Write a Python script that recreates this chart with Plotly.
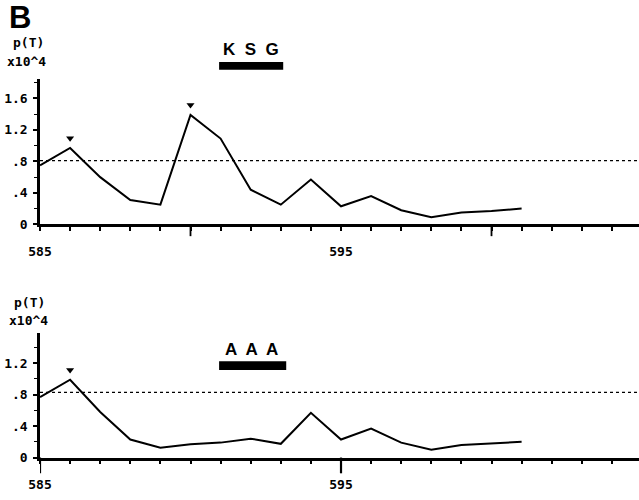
import plotly.graph_objects as go

# ---- data ----
positions = list(range(585, 602))
ksg_values = [0.75, 0.97, 0.60, 0.31, 0.25, 1.39, 1.09, 0.44, 0.25, 0.57, 0.23, 0.36, 0.18, 0.09, 0.15, 0.17, 0.20]
aaa_values = [0.77, 0.99, 0.58, 0.23, 0.125, 0.17, 0.19, 0.24, 0.175, 0.57, 0.23, 0.37, 0.19, 0.10, 0.16, 0.18, 0.20]
threshold_top = 0.81
threshold_bottom = 0.83
peaks_top = [586, 590]
peaks_bottom = [586]
motif_span = [590.95, 593.08]
motif_top_label = "K  S  G"
motif_bottom_label = "A  A  A"
x_tick_vals = [585, 595]
x_tick_text = ["585", "595"]
long_ticks_top = [590, 600]
long_ticks_bottom = [585, 595]
y_tick_vals = [0, 0.4, 0.8, 1.2, 1.6]
y_tick_text = ["0", ".4", ".8", "1.2", "1.6"]
y_tick_vals_bottom = [0, 0.4, 0.8, 1.2]
y_tick_text_bottom = ["0", ".4", ".8", "1.2"]

W, H = 639, 500
mono = dict(family="DejaVu Sans Mono", size=13, color="black", weight="bold")
sans = dict(family="Liberation Sans", size=17, color="black", weight="bold")

top_dom = [(H - 228) / H, (H - 80) / H]
bot_dom = [(H - 465) / H, (H - 338) / H]
arrow_offset = 0.125

fig = go.Figure()
fig.add_trace(go.Scatter(x=positions, y=ksg_values, mode="lines",
                         line=dict(color="black", width=2), xaxis="x", yaxis="y"))
fig.add_trace(go.Scatter(x=positions, y=aaa_values, mode="lines",
                         line=dict(color="black", width=2), xaxis="x2", yaxis="y2"))

# arrowheads above peaks
pk_top_y = [ksg_values[positions.index(p)] + arrow_offset for p in peaks_top]
pk_bot_y = [aaa_values[positions.index(p)] + arrow_offset for p in peaks_bottom]
fig.add_trace(go.Scatter(x=peaks_top, y=pk_top_y, mode="markers", cliponaxis=False,
                         marker=dict(symbol="triangle-down", size=7, color="black"),
                         xaxis="x", yaxis="y"))
fig.add_trace(go.Scatter(x=peaks_bottom, y=pk_bot_y, mode="markers", cliponaxis=False,
                         marker=dict(symbol="triangle-down", size=7, color="black"),
                         xaxis="x2", yaxis="y2"))

xcommon = dict(range=[585, 604.9], showline=True, linewidth=2.5, linecolor="black",
               ticks="outside", ticklen=4, tickwidth=1.5, tickcolor="black",
               tickvals=x_tick_vals, ticktext=x_tick_text, tickfont=mono,
               ticklabelstandoff=9,
               minor=dict(dtick=1, tick0=585, ticks="outside", ticklen=4, tickwidth=1.6,
                          tickcolor="black", showgrid=False),
               showgrid=False, zeroline=False, fixedrange=True)
ycommon = dict(showline=True, linewidth=2.5, linecolor="black",
               ticks="outside", ticklen=4, tickwidth=1.5, tickcolor="black",
               tickfont=mono, ticklabelstandoff=3,
               minor=dict(dtick=0.2, tick0=0, ticks="outside", ticklen=3, tickwidth=1.2,
                          tickcolor="black", showgrid=False),
               showgrid=False, zeroline=False, fixedrange=True)

fig.update_layout(
    width=W, height=H,
    margin=dict(l=40, r=0, t=0, b=0),
    paper_bgcolor="white", plot_bgcolor="white",
    showlegend=False,
    xaxis=dict(domain=[0, 1], anchor="y", **xcommon),
    yaxis=dict(domain=top_dom, anchor="x", range=[0, 1.85],
               tickvals=y_tick_vals, ticktext=y_tick_text, **ycommon),
    xaxis2=dict(domain=[0, 1], anchor="y2", **xcommon),
    yaxis2=dict(domain=bot_dom, anchor="x2", range=[0, 1.59],
                tickvals=y_tick_vals_bottom, ticktext=y_tick_text_bottom, **ycommon),
)

shapes = []
# dotted threshold lines
shapes.append(dict(type="line", xref="x domain", yref="y", x0=0, x1=1,
                   y0=threshold_top, y1=threshold_top,
                   line=dict(color="black", width=1.2, dash="dot")))
shapes.append(dict(type="line", xref="x2 domain", yref="y2", x0=0, x1=1,
                   y0=threshold_bottom, y1=threshold_bottom,
                   line=dict(color="black", width=1.2, dash="dot")))
# long ticks
for t in long_ticks_top:
    shapes.append(dict(type="line", xref="x", yref="paper", x0=t, x1=t,
                       y0=top_dom[0], y1=top_dom[0] - 12 / H,
                       line=dict(color="black", width=1.8)))
for t in long_ticks_bottom:
    shapes.append(dict(type="line", xref="x2", yref="paper", x0=t, x1=t,
                       y0=bot_dom[0], y1=bot_dom[0] - 16 / H,
                       line=dict(color="black", width=2.2)))
# motif bars
shapes.append(dict(type="rect", xref="x", yref="paper",
                   x0=motif_span[0], x1=motif_span[1],
                   y0=(H - 71) / H, y1=(H - 63) / H,
                   fillcolor="black", line=dict(width=0)))
shapes.append(dict(type="rect", xref="x2", yref="paper",
                   x0=motif_span[0], x1=motif_span[1] + 0.1,
                   y0=(H - 376) / H, y1=(H - 367) / H,
                   fillcolor="black", line=dict(width=0)))
fig.update_layout(shapes=shapes)

mx = (motif_span[0] + motif_span[1]) / 2
PW = W - 40
annotations = [
    dict(text="B", xref="paper", yref="paper", x=-20 / PW, y=(H - 18) / H,
         xanchor="center", yanchor="middle", showarrow=False, borderpad=0,
         font=dict(family="Liberation Sans", size=31, color="black", weight="bold")),
    dict(text="p(T)", xref="paper", yref="paper", x=-12 / PW, y=(H - 43) / H,
         xanchor="center", yanchor="middle", showarrow=False, font=mono),
    dict(text="x10^4", xref="paper", yref="paper", x=-14 / PW, y=(H - 62) / H,
         xanchor="center", yanchor="middle", showarrow=False, font=mono),
    dict(text="p(T)", xref="paper", yref="paper", x=-11 / PW, y=(H - 307) / H,
         xanchor="center", yanchor="middle", showarrow=False, font=mono),
    dict(text="x10^4", xref="paper", yref="paper", x=-12 / PW, y=(H - 326) / H,
         xanchor="center", yanchor="middle", showarrow=False, font=mono),
    dict(text=motif_top_label, xref="x", yref="paper", x=mx, y=(H - 50) / H,
         xanchor="center", yanchor="middle", showarrow=False, font=sans),
    dict(text=motif_bottom_label, xref="x2", yref="paper", x=mx, y=(H - 355) / H,
         xanchor="center", yanchor="middle", showarrow=False, font=sans),
]
fig.update_layout(annotations=annotations)

fig.write_html("out.html", config={"displayModeBar": False},
               post_script="document.body.style.margin='0';")
